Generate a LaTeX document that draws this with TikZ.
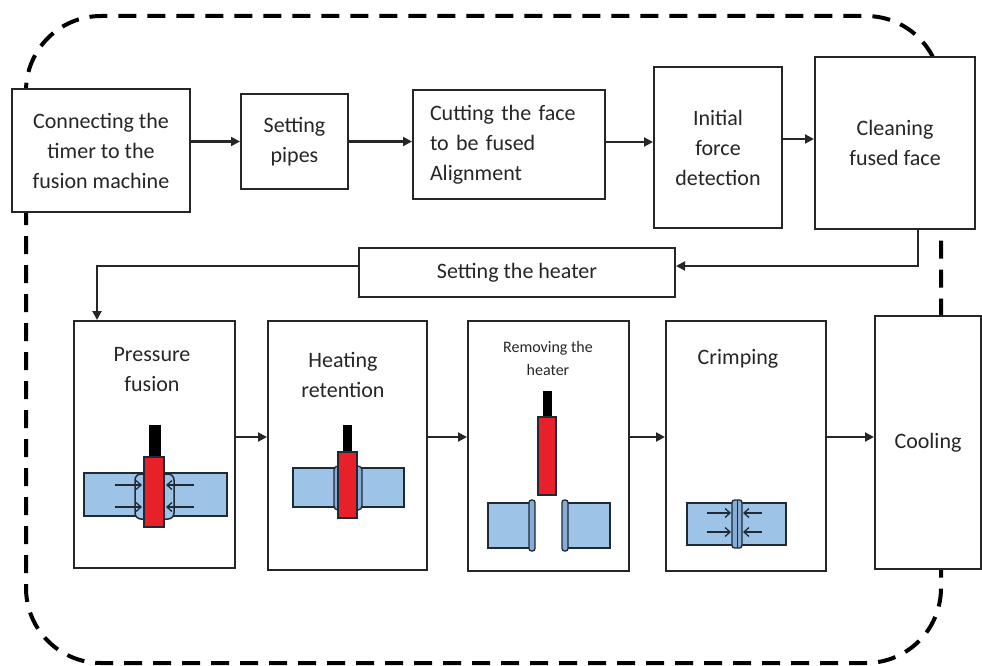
\documentclass[tikz,border=0pt]{standalone}
\usepackage{fontspec}
\setmainfont{Carlito}
\usetikzlibrary{arrows.meta}
\definecolor{ink}{HTML}{262626}
\definecolor{pipe}{HTML}{9DC3E6}
\definecolor{bead}{HTML}{85ADD6}
\definecolor{heatred}{HTML}{E8202A}
\definecolor{pipeline}{HTML}{1F2A36}

\begin{document}
\begin{tikzpicture}[x=1pt,y=-1pt,
  box/.style={draw=ink, line width=2pt, fill=white, inner sep=0pt, align=center,
              font=\fontsize{22}{30}\selectfont, text=ink},
  lbl/.style={align=center, inner sep=0pt, font=\fontsize{22}{30}\selectfont, text=ink},
  flow/.style={draw=ink, line width=2pt, -{Triangle[length=9pt,width=9pt]}},
  border/.style={draw=black, line width=4pt, dash pattern=on 18pt off 11pt},
  pipepart/.style={fill=pipe, draw=pipeline, line width=1.5pt},
  beadpart/.style={fill=bead, draw=pipeline, line width=1.3pt, rounded corners=2.5pt},
  heaterpart/.style={fill=heatred, draw=pipeline, line width=1.2pt},
  stem/.style={fill=black},
  push/.style={draw=pipeline, line width=1.3pt, -{Straight Barb[length=5pt,width=9pt]}}
]
\useasboundingbox (0,0) rectangle (982,666);
\fill[white] (0,0) rectangle (982,666);

% dashed loop around the whole procedure
\draw[border, rounded corners=75pt] (26,16) rectangle (941,663);

% first row of steps
\node[box, minimum width=178, minimum height=123] (b1) at (101,150.5)
  {Connecting the\\timer to the\\fusion machine};
\node[box, minimum width=107, minimum height=95] (b2) at (294.5,141.5)
  {Setting\\pipes};
\node[box, minimum width=192, minimum height=109, text width=158, align=left] (b3) at (509,144.5)
  {Cutting the face\\to be fused\\Alignment};
\node[box, minimum width=128, minimum height=161] (b4) at (718,147.5)
  {Initial\\force\\detection};
\node[box, minimum width=160, minimum height=172] (b5) at (895,143)
  {Cleaning\\fused face};

% heater set-up
\node[box, minimum width=316, minimum height=49] (heat) at (517,272.5)
  {Setting the heater};

% second row of steps
\node[box, minimum width=161, minimum height=247] (p1) at (154.5,444.5) {};
\node[box, minimum width=159, minimum height=249] (p2) at (347.5,445.5) {};
\node[box, minimum width=161, minimum height=250] (p3) at (548.5,446) {};
\node[box, minimum width=160, minimum height=250] (p4) at (746,446) {};
\node[box, minimum width=106, minimum height=253] (p5) at (928,442.5) {Cooling};

\node[lbl] (l1) at (152,370) {Pressure\\fusion};
\node[lbl] (l2) at (343,374.5) {Heating\\retention};
\node[lbl, font=\fontsize{16}{23}\selectfont] (l3) at (548,358.5) {Removing the\\heater};
\node[lbl] (l4) at (738,359) {Crimping};

% connectors
\draw[flow] (b1.east |- b2.west) -- (b2.west);
\draw[flow] (b2.east) -- (b2.east -| b3.west);
\draw[flow] ([yshift=2.5pt]b3.east) -- ([yshift=2.5pt]b3.east -| b4.west);
\draw[flow] ([yshift=8.5pt]b4.east) -- ([yshift=8.5pt]b4.east -| b5.west);
\coordinate (c1) at (918,266);
\draw[flow] (b5.south -| c1) -- (c1) -- (c1 -| heat.east);
\coordinate (c2) at (97,266);
\draw[flow] (c2 -| heat.west) -- (c2) -- (c2 |- p1.north);
\coordinate (r) at (0,437);
\draw[flow] (p1.east |- r) -- (p2.west |- r);
\draw[flow] (p2.east |- r) -- (p3.west |- r);
\draw[flow] (p3.east |- r) -- (p4.west |- r);
\draw[flow] (p4.east |- r) -- (p5.west |- r);

% pressure fusion sketch
\draw[pipepart] (84,473) rectangle (227,516);
\draw[pipepart, rounded corners=6pt] (135,474) rectangle (174,519);
\draw[push] (115,485) -- (142,485);
\draw[push] (115,507) -- (142,507);
\draw[push] (194,485) -- (166,485);
\draw[push] (194,507) -- (166,507);
\fill[stem] (149,425) rectangle (161,457);
\draw[heaterpart] (144,457) rectangle (164,527);

% heating retention sketch
\draw[pipepart] (293,468) rectangle (404,507);
\draw[beadpart, rounded corners=4pt] (334,466) rectangle (362,510);
\fill[stem] (343,425) rectangle (352,452);
\draw[heaterpart] (338,452) rectangle (357,518);

% removing the heater sketch
\fill[stem] (543,391) rectangle (552,418);
\draw[heaterpart] (538,417) rectangle (556,495);
\draw[pipepart] (488,503) rectangle (533,548);
\draw[beadpart] (529,500) rectangle (535,551);
\draw[pipepart] (565,503) rectangle (610,548);
\draw[beadpart] (562,500) rectangle (568,551);

% crimping sketch
\draw[pipepart] (687,503) rectangle (786,545);
\draw[push] (707,513) -- (731,513);
\draw[push] (707,532) -- (731,532);
\draw[push] (762,513) -- (743,513);
\draw[push] (762,532) -- (743,532);
\draw[beadpart] (732,500) rectangle (742,548);
\draw[pipeline, line width=1pt] (737,500) -- (737,548);
\end{tikzpicture}
\end{document}
